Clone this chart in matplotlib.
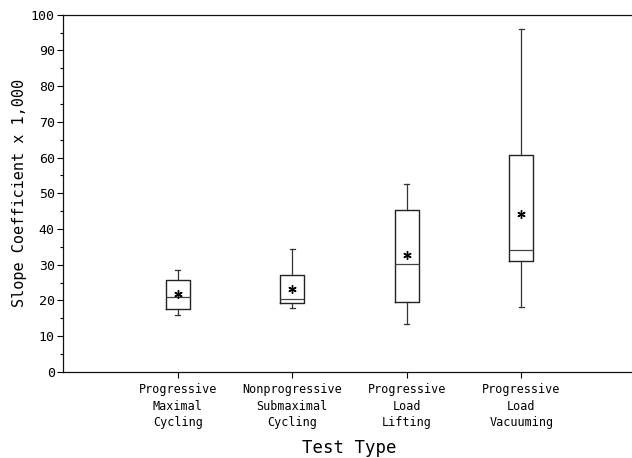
import matplotlib.pyplot as plt

plt.rcParams['font.family'] = ['DejaVu Sans Mono']

categories = ["Progressive\nMaximal\nCycling",
              "Nonprogressive\nSubmaximal\nCycling",
              "Progressive\nLoad\nLifting",
              "Progressive\nLoad\nVacuuming"]
whis_lo = [15.8, 17.9, 13.4, 18.3]
q1 = [17.6, 19.3, 19.7, 31.0]
median = [20.9, 20.4, 30.3, 34.2]
q3 = [25.6, 27.2, 45.4, 60.6]
whis_hi = [28.6, 34.5, 52.7, 96.1]
means = [21.8, 23.2, 32.8, 44.1]

stats = []
for i in range(len(categories)):
    stats.append(dict(whislo=whis_lo[i], q1=q1[i], med=median[i], q3=q3[i],
                      whishi=whis_hi[i], mean=means[i], fliers=[]))

fig = plt.figure(figsize=(6.32, 4.58), dpi=100)
ax = fig.add_axes([0.1, 0.188, 0.906, 0.78])

pos = [1, 2, 3, 4]
ax.bxp(stats, positions=pos, widths=0.21, capwidths=0.04, showmeans=True,
       patch_artist=False,
       boxprops=dict(color='#222222', linewidth=1.0),
       medianprops=dict(color='#444444', linewidth=0.9),
       whiskerprops=dict(color='#333333', linewidth=0.9),
       capprops=dict(color='#333333', linewidth=0.9),
       meanprops=dict(marker=(6, 2, 0), markersize=6, markeredgecolor='black',
                      markerfacecolor='black', markeredgewidth=1.0))

ax.set_xlim(0, 5)
ax.set_ylim(0, 100)
ax.set_yticks(range(0, 101, 10))
ax.set_yticks(range(5, 100, 10), minor=True)
ax.set_xticks(pos)
ax.set_xticklabels(categories, fontsize=8.5, linespacing=1.35)
ax.tick_params(axis='y', labelsize=9.5, length=4, width=0.8, pad=2)
ax.tick_params(axis='y', which='minor', length=2, width=0.8)
ax.tick_params(axis='x', length=4, width=0.8, pad=4)

for s in ['left', 'bottom', 'top']:
    ax.spines[s].set_linewidth(0.9)
    ax.spines[s].set_color('#111111')
ax.spines['right'].set_visible(False)

ax.set_ylabel("Slope Coefficient x 1,000", fontsize=11, labelpad=3)
ax.set_xlabel("Test Type", fontsize=12.5, labelpad=7)

fig.savefig("out.png", dpi=100)
